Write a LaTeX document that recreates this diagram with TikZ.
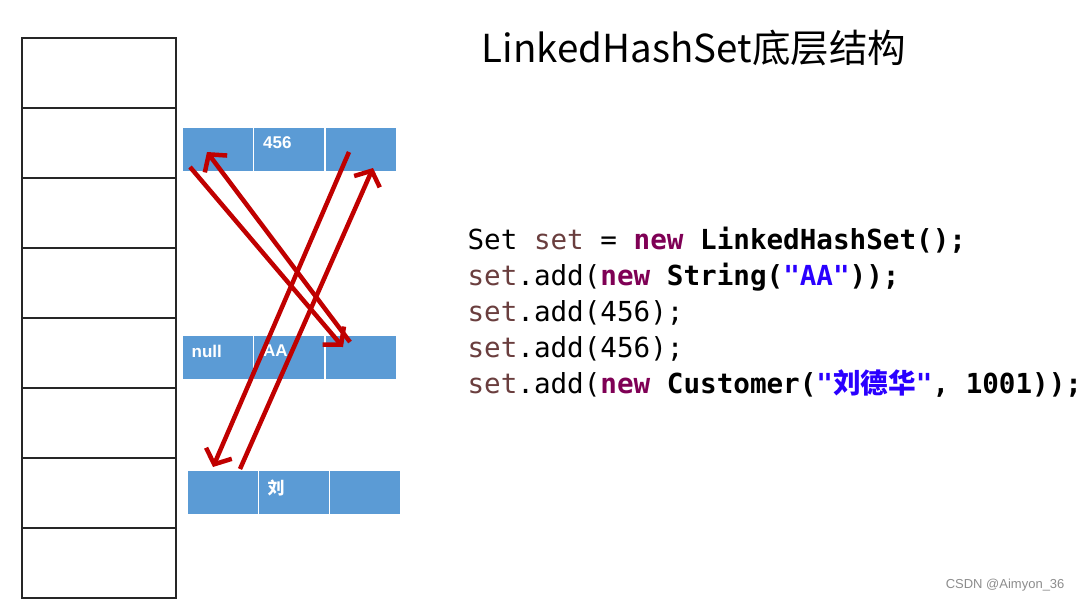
\documentclass[tikz,border=0pt]{standalone}
\usepackage{fontspec}
\setmainfont{Noto Sans CJK SC}
\newfontfamily\codefont{DejaVu Sans Mono}
\newfontfamily\cjk{Noto Sans CJK SC}
\newfontfamily\cellfont{Liberation Sans}
\usetikzlibrary{arrows.meta}

\definecolor{cellblue}{HTML}{5B9BD5}
\definecolor{linkred}{HTML}{C00000}
\definecolor{kwpurple}{HTML}{7F0055}
\definecolor{strblue}{HTML}{2A00FF}
\definecolor{varbrown}{HTML}{6A3E3E}

\newcommand{\kw}[1]{\textcolor{kwpurple}{\bfseries #1}}
\newcommand{\vn}[1]{\textcolor{varbrown}{#1}}
\newcommand{\strlit}[1]{\textcolor{strblue}{\bfseries #1}}

\begin{document}
\begin{tikzpicture}[x=1pt,y=-1pt,
    slot/.style={draw=black!85,line width=1.5pt,minimum width=154pt,minimum height=70pt,inner sep=0pt},
    cell/.style={fill=cellblue,draw=white,line width=1pt,minimum width=71pt,minimum height=44pt,inner sep=0pt},
    tag/.style={anchor=north west,inner sep=0pt,xshift=10pt,yshift=-10pt,text=white,
                font=\cellfont\bfseries\fontsize{17}{17}\selectfont},
    link/.style={draw=linkred,line width=4.5pt,-{Straight Barb[length=12pt,width=28pt]}}]
  \useasboundingbox (0,0) rectangle (1084,602);

  % hash table: eight slots
  \foreach \i in {0,...,7}
    \node[slot] (s\i) at (99,{73+70*\i}) {};

  % linked entries: before | data | after
  \node[cell] (r1a) at (217.5,149) {};
  \node[cell,label={[tag]north west:456}] (r1b) at (289,149) {};
  \node[cell] (r1c) at (361,149) {};
  \node[cell,label={[tag]north west:null}] (r2a) at (217.5,357) {};
  \node[cell,label={[tag]north west:AA}] (r2b) at (289,357) {};
  \node[cell] (r2c) at (361,357) {};
  \node[cell] (r3a) at (222.5,492.5) {};
  \node[cell,label={[tag,font=\cjk\bfseries\fontsize{17}{17}\selectfont]north west:刘}] (r3b) at (293.5,492.5) {};
  \node[cell] (r3c) at (364.5,492.5) {};

  % ends of the before/after links
  \coordinate (aa) at (190,167);  \coordinate (ab) at (343,347);
  \coordinate (ba) at (350,342);  \coordinate (bb) at (207,152);
  \coordinate (ca) at (349,152);  \coordinate (cb) at (213,467);
  \coordinate (da) at (240,469);  \coordinate (db) at (373,168);
  \draw[link] (aa) -- (ab);
  \draw[link] (ba) -- (bb);
  \draw[link] (ca) -- (cb);
  \draw[link] (da) -- (db);

  \node[font=\fontsize{38.5}{38.5}\selectfont] (title) at (694,48) {LinkedHashSet底层结构};

  \node[anchor=west,align=left,font=\codefont\fontsize{27.6}{36}\selectfont] (code) at (464,312)
    {Set \vn{set} = \kw{new} \textbf{LinkedHashSet();}\\
     \vn{set}.add(\kw{new} \textbf{String(}\strlit{"AA"}\textbf{));}\\
     \vn{set}.add(456);\\
     \vn{set}.add(456);\\
     \vn{set}.add(\kw{new} \textbf{Customer(}\strlit{"{\cjk 刘德华}"}\textbf{, 1001));}};

  \node[anchor=east,text=black!45,font=\cellfont\fontsize{13}{13}\selectfont] (mark) at (1068,585) {CSDN @Aimyon\_36};
\end{tikzpicture}
\end{document}
